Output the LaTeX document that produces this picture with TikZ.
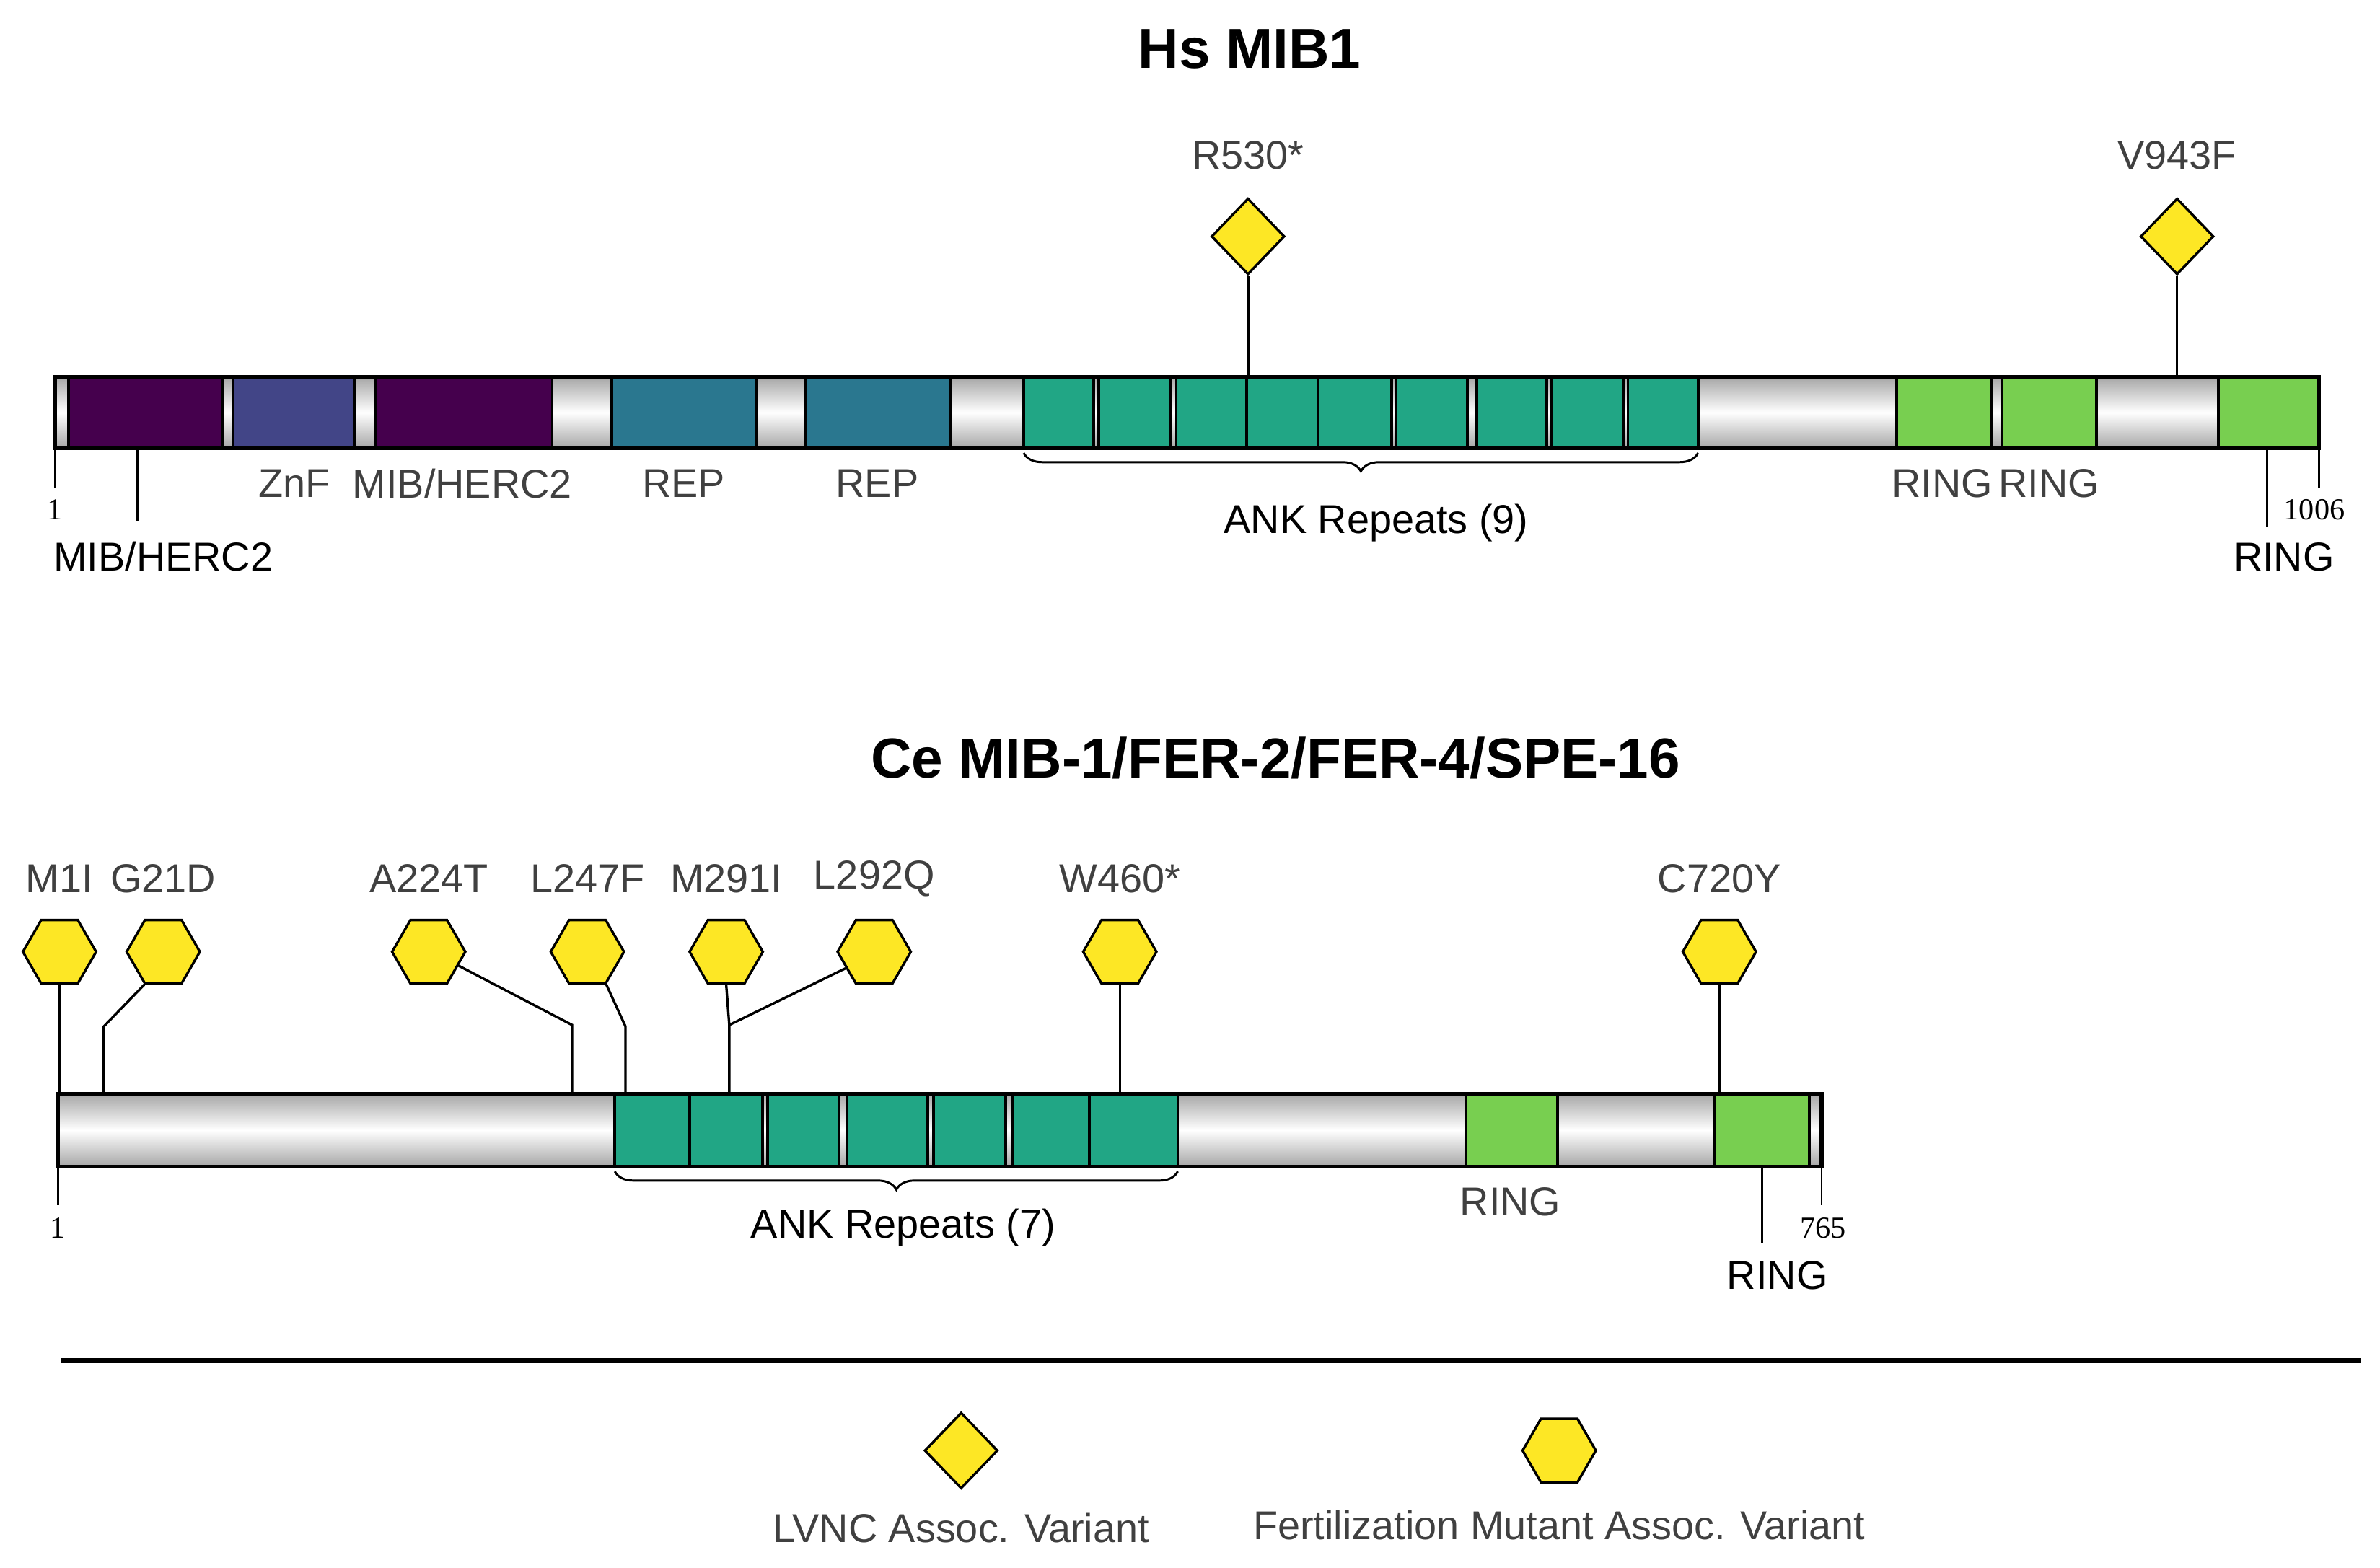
\documentclass[tikz,border=0pt]{standalone}
\usepackage{fontspec}
\setmainfont{Liberation Sans}
\newfontfamily\serifnum{Liberation Serif}
\usetikzlibrary{shapes.geometric,decorations.pathreplacing}
\definecolor{dpurp}{HTML}{45004D}
\definecolor{znf}{HTML}{424587}
\definecolor{rep}{HTML}{2A778F}
\definecolor{ank}{HTML}{21A685}
\definecolor{ring}{HTML}{78CF50}
\definecolor{vyel}{HTML}{FDE725}
\definecolor{txt}{HTML}{404040}
\begin{document}
\begin{tikzpicture}[x=0.5pt,y=-0.5pt,
  bar/.style={draw=black,line width=1.2pt,top color=black!35,bottom color=black!35,middle color=white},
  dom/.style={draw=black,line width=0.9pt},
  lab/.style={font=\fontsize{13.2}{15}\selectfont,text=txt,inner sep=0},
  blab/.style={font=\fontsize{13.2}{15}\selectfont,text=black,inner sep=0},
  num/.style={font=\serifnum\fontsize{10}{12}\selectfont,inner sep=0},
  ttl/.style={font=\bfseries\fontsize{18.5}{22}\selectfont,inner sep=0},
  dia/.style={diamond,draw=black,line width=0.8pt,fill=vyel,minimum width=24pt,minimum height=25pt,inner sep=0},
  hex/.style={regular polygon,regular polygon sides=6,draw=black,line width=0.8pt,fill=vyel,minimum size=24pt,inner sep=0},
  conn/.style={line width=0.8pt},
  tick/.style={line width=0.6pt},
  brc/.style={decorate,decoration={brace,amplitude=6pt,mirror},line width=0.7pt}]
\useasboundingbox (0,0) rectangle (1560,1028);
% titles
\node[ttl] (t1) at (819,32) {Hs MIB1};
\node[ttl] (t2) at (836,497) {Ce MIB-1/FER-2/FER-4/SPE-16};
% ---- top bar
\fill[bar] (36,247) rectangle (1520,294);
\foreach \a/\b/\c in {45/146/dpurp,153/232/znf,246/362/dpurp,401/496/rep,528/623/rep,
  671/717/ank,720/767/ank,771/817/ank,817/864/ank,864/912/ank,915/962/ank,968/1014/ank,1017/1064/ank,1067/1113/ank,
  1243/1305/ring,1312/1374/ring,1454/1520/ring}
  \filldraw[dom,fill=\c] (\a,247) rectangle (\b,294);
\draw[line width=1.2pt] (36,247) rectangle (1520,294);
\coordinate (h1) at (36,294); \coordinate (h1e) at (36,320);
\coordinate (hm) at (90,294); \coordinate (hme) at (90,342);
\coordinate (hr) at (1486,294); \coordinate (hre) at (1486,345);
\coordinate (hz) at (1520,294); \coordinate (hze) at (1520,320);
\draw[tick] (h1)--(h1e); \draw[tick] (hm)--(hme); \draw[tick] (hr)--(hre); \draw[tick] (hz)--(hze);
\node[num] (n1) at (36,334) {1};
\node[num] (n1006) at (1517,334) {1006};
\node[blab] (lmh) at (107,365) {MIB/HERC2};
\node[lab] (lznf) at (193,317) {ZnF};
\node[lab] (lmh2) at (303,317) {MIB/HERC2};
\node[lab] (lrep1) at (448,317) {REP};
\node[lab] (lrep2) at (575,317) {REP};
\node[lab] (lr1) at (1273,317) {RING};
\node[lab] (lr2) at (1343,317) {RING};
\node[blab] (lr3) at (1497,365) {RING};
\coordinate (ba) at (671,297); \coordinate (bb) at (1113,297);
\draw[brc] (ba) -- (bb);
\node[blab] (lank9) at (902,343) {ANK Repeats (9)};
\node[dia] (r530) at (818,155) {};
\node[lab] (lr530) at (818,102) {R530*};
\coordinate (r530b) at (818,247);
\draw[conn] (r530.south) -- (r530b);
\node[dia] (v943) at (1427,155) {};
\node[lab] (lv943) at (1427,102) {V943F};
\coordinate (v943b) at (1427,247);
\draw[conn] (v943.south) -- (v943b);
% ---- bottom bar
\fill[bar] (38,717) rectangle (1194,765);
\foreach \a/\b/\c in {403/452/ank,452/500/ank,503/550/ank,555/608/ank,612/659/ank,664/714/ank,714/772/ank,
  961/1021/ring,1124/1186/ring}
  \filldraw[dom,fill=\c] (\a,717) rectangle (\b,765);
\draw[line width=1.2pt] (38,717) rectangle (1194,765);
\coordinate (c1) at (38,765); \coordinate (c1e) at (38,790);
\coordinate (cr) at (1155,765); \coordinate (cre) at (1155,815);
\coordinate (cz) at (1194,765); \coordinate (cze) at (1194,790);
\draw[tick] (c1)--(c1e); \draw[tick] (cr)--(cre); \draw[tick] (cz)--(cze);
\node[num] (m1) at (38,805) {1};
\node[num] (m765) at (1195,805) {765};
\node[lab] (lcr1) at (990,788) {RING};
\node[blab] (lcr2) at (1165,836) {RING};
\coordinate (ca) at (403,768); \coordinate (cb) at (772,768);
\draw[brc] (ca) -- (cb);
\node[blab] (lank7) at (592,805) {ANK Repeats (7)};
% hexagons
\foreach \n/\x/\t in {m1i/39/M1I,g21/107/G21D,a224/281/A224T,l247/385/L247F,m291/476/M291I,l292/573/L292Q,w460/734/W460*,c720/1127/C720Y}{
  \node[hex] (\n) at (\x,624) {};
  \node[lab] (l\n) at (\x,576) {\t};
}
\coordinate (p1) at (39,717);
\coordinate (p2a) at (68,673); \coordinate (p2) at (68,717);
\coordinate (p3a) at (375,672); \coordinate (p3) at (375,717);
\coordinate (p4a) at (410,673); \coordinate (p4) at (410,717);
\coordinate (p5a) at (478,672); \coordinate (p5) at (478,717);
\coordinate (p7) at (734,717);
\coordinate (p8) at (1127,717);
\draw[conn] (m1i.south) -- (p1);
\draw[conn] (g21.240) -- (p2a) -- (p2);
\draw[conn] (a224.-25) -- (p3a) -- (p3);
\draw[conn] (l247.-60) -- (p4a) -- (p4);
\draw[conn] (m291.south) -- (p5a) -- (p5);
\draw[conn] (l292.210) -- (p5a);
\draw[conn] (w460.south) -- (p7);
\draw[conn] (c720.south) -- (p8);
% separator & legend
\coordinate (s1) at (40,892); \coordinate (s2) at (1547,892);
\draw[line width=1.5pt] (s1) -- (s2);
\node[dia] (legd) at (630,951) {};
\node[lab] (llegd) at (630,1002) {LVNC Assoc. Variant};
\node[hex] (legh) at (1022,951) {};
\node[lab] (llegh) at (1022,1000) {Fertilization Mutant Assoc. Variant};
\end{tikzpicture}
\end{document}
